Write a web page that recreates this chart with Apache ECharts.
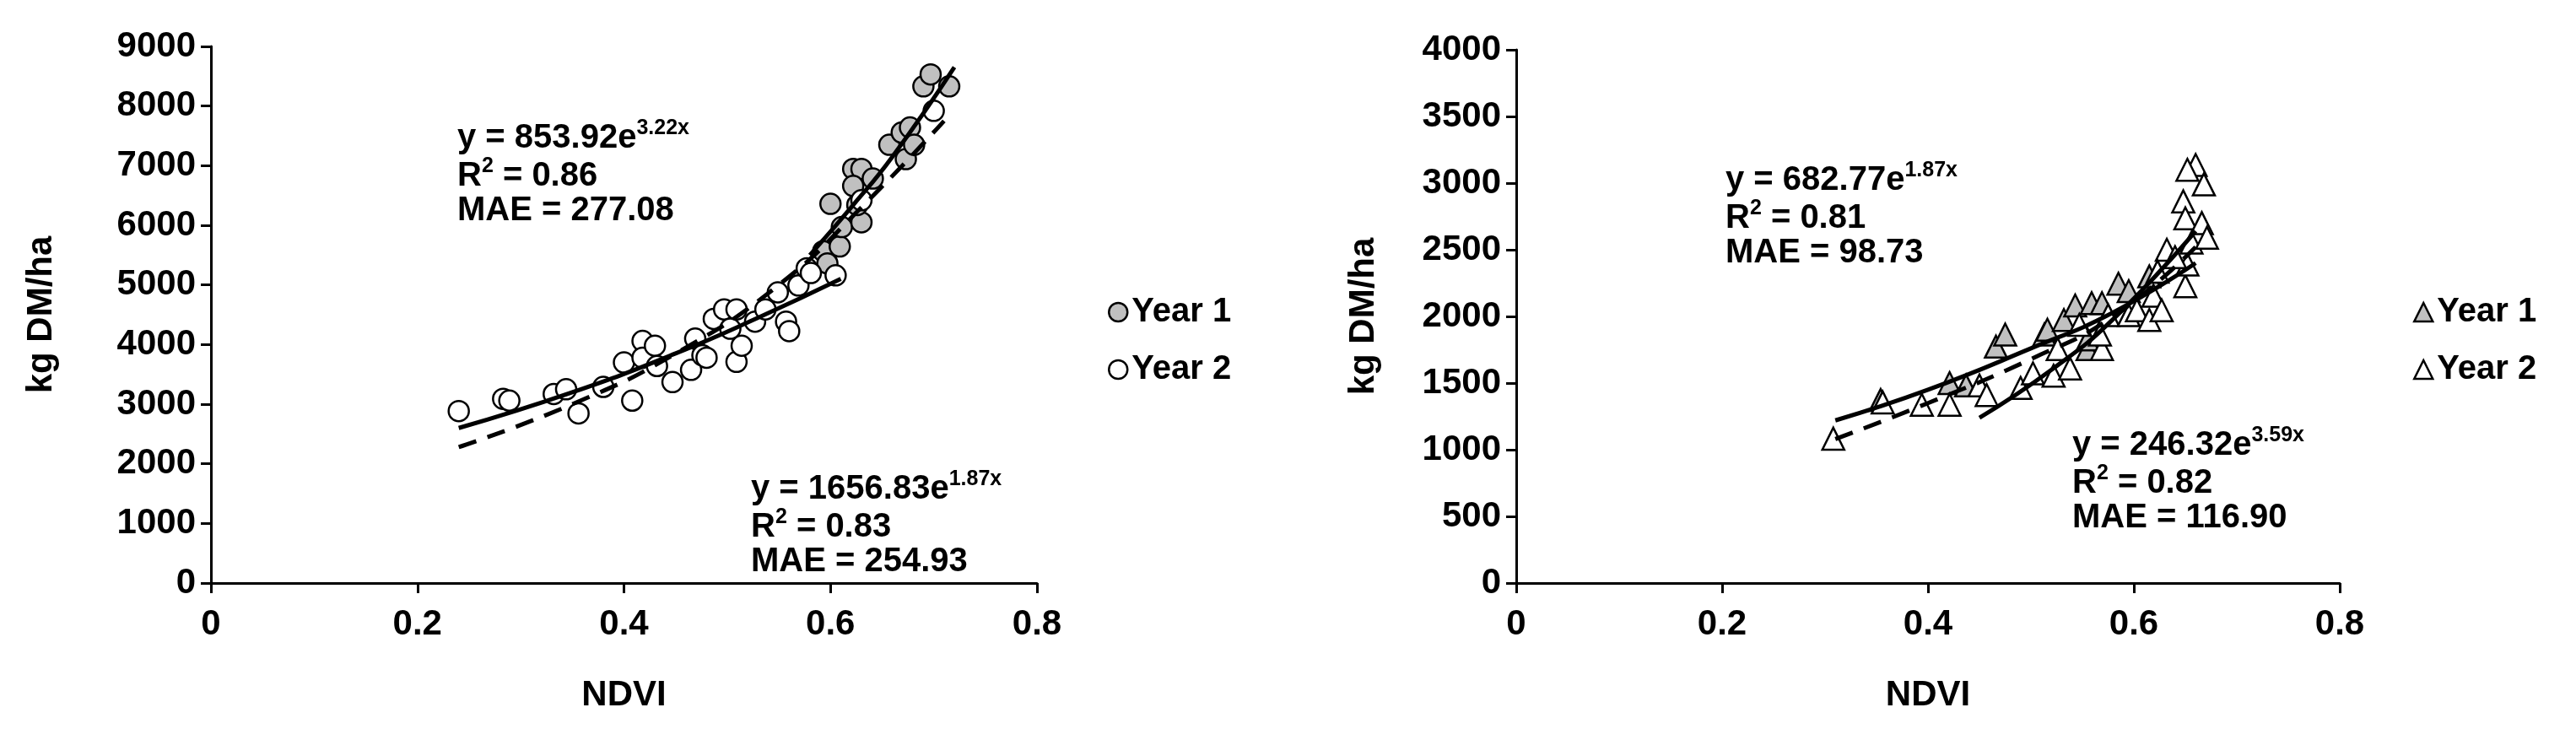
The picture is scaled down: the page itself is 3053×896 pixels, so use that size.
<!DOCTYPE html>
<html><head><meta charset="utf-8">
<script src="https://cdn.jsdelivr.net/npm/echarts@6/dist/echarts.min.js"></script>
<style>html,body{margin:0;background:#fff}#c{width:3053px;height:896px}</style>
</head><body><div id="c"></div>
<script>
const FONT = "'Liberation Sans Narrow','Liberation Sans',Arial,sans-serif";
const xTicks = [0, 0.2, 0.4, 0.6, 0.8];
// Left panel (total)
const leftYear1 = [[0.600,6360],[0.593,5565],[0.609,5645],[0.611,5970],[0.622,6945],[0.630,6945],[0.622,6660],[0.630,6050],[0.626,6340],[0.641,6785],[0.657,7350],[0.669,7555],[0.673,7110],[0.677,7640],[0.681,7350],[0.690,8330],[0.697,8530],[0.715,8330],[0.597,5360]];
const leftYear2 = [[0.240,2885],[0.283,3090],[0.289,3060],[0.332,3170],[0.344,3250],[0.356,2845],[0.380,3290],[0.400,3700],[0.408,3060],[0.418,4060],[0.418,3780],[0.430,3980],[0.432,3640],[0.447,3370],[0.465,3575],[0.469,4100],[0.476,3820],[0.480,3780],[0.487,4430],[0.497,4590],[0.503,4265],[0.509,4590],[0.509,3710],[0.514,3980],[0.527,4385],[0.537,4590],[0.549,4875],[0.557,4385],[0.560,4225],[0.569,4990],[0.577,5280],[0.581,5200],[0.605,5160],[0.700,7920],[0.630,6420]];
const leftFitY1 = [[0.58,5500],[0.62,6300],[0.66,7150],[0.72,8650]];
const leftFitY2 = [[0.24,2600],[0.35,3200],[0.45,3850],[0.53,4450],[0.61,5100]];
const leftFitAll = [[0.24,2280],[0.35,3000],[0.45,3850],[0.55,5000],[0.63,6300],[0.71,7750]];
// Right panel
const rightYear1 = [[0.466,1773],[0.475,1864],[0.513,1864],[0.516,1900],[0.532,1973],[0.543,2082],[0.555,1755],[0.559,2100],[0.569,2100],[0.585,2245],[0.595,2190],[0.421,1500],[0.354,1373],[0.437,1482],[0.555,1827],[0.615,2300]];
const rightYear2 = [[0.308,1083],[0.356,1355],[0.394,1337],[0.421,1337],[0.450,1482],[0.457,1410],[0.490,1464],[0.502,1573],[0.522,1555],[0.538,1609],[0.526,1755],[0.547,1937],[0.569,1755],[0.567,1864],[0.575,2009],[0.595,2009],[0.603,2046],[0.615,1973],[0.619,2155],[0.627,2046],[0.632,2500],[0.623,2336],[0.648,2863],[0.650,2736],[0.650,2227],[0.652,2390],[0.656,2554],[0.660,3136],[0.668,2990],[0.666,2700],[0.671,2590],[0.640,2445],[0.652,3100]];
const rightFitA = [[0.31,1220],[0.40,1450],[0.50,1760],[0.58,2030],[0.66,2400]];
const rightFitB = [[0.45,1240],[0.52,1600],[0.58,1980],[0.66,2640]];
const rightFitAll = [[0.31,1080],[0.40,1350],[0.50,1680],[0.58,2000],[0.66,2520]];

const lab = {color:'#000', fontFamily:FONT, fontWeight:'bold', fontSize:42};
function xAxis(i){return {gridIndex:i,type:'value',min:0,max:0.8,interval:0.2,name:'NDVI',nameLocation:'middle',nameGap:112,
  nameTextStyle:Object.assign({},lab,{fontSize:42}),axisLine:{lineStyle:{color:'#000',width:3}},axisTick:{lineStyle:{color:'#000',width:3},length:12},
  splitLine:{show:false},axisLabel:Object.assign({},lab,{margin:28,formatter:v=>String(+v.toFixed(1))})};}
function yAxis(i,max,intv){return {gridIndex:i,type:'value',min:0,max:max,interval:intv,name:'kg DM/ha',nameLocation:'middle',nameGap:i?160:180,
  nameTextStyle:Object.assign({},lab,{fontSize:42}),axisLine:{show:true,lineStyle:{color:'#000',width:3}},axisTick:{show:true,lineStyle:{color:'#000',width:3},length:12},
  splitLine:{show:false},axisLabel:Object.assign({},lab,{margin:18,formatter:v=>String(v)})};}
function sc(name,data,i,sym,fill,size){return {name:name,type:'scatter',xAxisIndex:i,yAxisIndex:i,data:data,symbol:sym,symbolSize:size,
  itemStyle:{color:fill,borderColor:'#000',borderWidth:2.5,opacity:1},z:3};}
function ln(data,i,dash){return {type:'line',xAxisIndex:i,yAxisIndex:i,data:data,smooth:true,symbol:'none',
  lineStyle:{color:'#000',width:5,type:dash?[22,14]:'solid'},z:4,silent:true};}
function eq(x,y,coef,expo,r2,mae){
  const st={fontFamily:FONT,fontWeight:'bold',fontSize:40,fill:'#000'};
  const rich={a:{fontFamily:FONT,fontWeight:'bold',fontSize:40,fill:'#000'},s:{fontFamily:FONT,fontWeight:'bold',fontSize:25,fill:'#000',padding:[0,0,22,0]}};
  return [
    {type:'text',left:x,top:y,style:{text:'{a|y = '+coef+'e}{s|'+expo+'}',rich:rich}},
    {type:'text',left:x,top:y+45,style:{text:'{a|R}{s|2}{a| = '+r2+'}',rich:rich}},
    {type:'text',left:x,top:y+90,style:Object.assign({text:'MAE = '+mae},st)}
  ];
}
const chart = echarts.init(document.getElementById('c'));
chart.setOption({
  animation:false,
  grid:[{left:250,right:1824,top:55,bottom:205},{left:1797,right:280,top:59,bottom:205}],
  xAxis:[xAxis(0),xAxis(1)],
  yAxis:[yAxis(0,9000,1000),yAxis(1,4000,500)],
  legend:[
    {orient:'vertical',left:1308,top:345,itemGap:28,itemWidth:22,itemHeight:22,textStyle:Object.assign({},lab,{fontSize:40}),
     data:[{name:'Year 1',icon:'circle',itemStyle:{color:'#c0c0c0',borderColor:'#000',borderWidth:2.5}},{name:'Year 2',icon:'circle',itemStyle:{color:'#fff',borderColor:'#000',borderWidth:2.5}}]},
    {orient:'vertical',left:2855,top:345,itemGap:28,itemWidth:22,itemHeight:22,textStyle:Object.assign({},lab,{fontSize:40}),
     data:[{name:'Year 1 ',icon:'triangle',itemStyle:{color:'#c0c0c0',borderColor:'#000',borderWidth:2.5}},{name:'Year 2 ',icon:'triangle',itemStyle:{color:'#fff',borderColor:'#000',borderWidth:2.5}}]}
  ],
  graphic:[].concat(
    eq(542,140,'853.92','3.22x','0.86','277.08'),
    eq(890,556,'1656.83','1.87x','0.83','254.93'),
    eq(2045,190,'682.77','1.87x','0.81','98.73'),
    eq(2456,504,'246.32','3.59x','0.82','116.90')
  ),
  series:[
    sc('Year 1',leftYear1,0,'circle','#c0c0c0',24),
    sc('Year 2',leftYear2,0,'circle','#fff',24),
    ln(leftFitY1,0,false), ln(leftFitY2,0,false), ln(leftFitAll,0,true),
    sc('Year 1 ',rightYear1,1,'triangle','#c0c0c0',26),
    sc('Year 2 ',rightYear2,1,'triangle','#fff',26),
    ln(rightFitA,1,false), ln(rightFitB,1,false), ln(rightFitAll,1,true)
  ]
});
</script></body></html>
